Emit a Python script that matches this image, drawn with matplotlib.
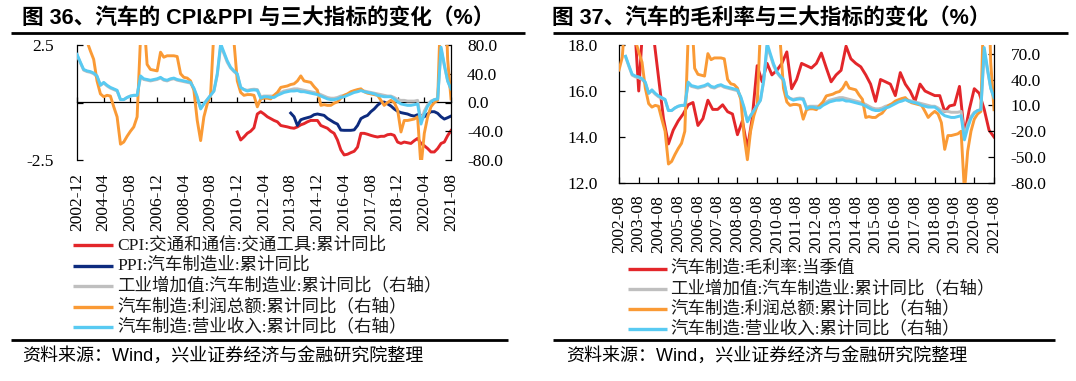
import numpy as np
import pandas as pd
import matplotlib
matplotlib.use('Agg')
import matplotlib.pyplot as plt
import matplotlib.dates as mdates
from matplotlib.lines import Line2D

nan = np.nan

# ---------------- data ----------------
# bi-monthly cumulative yoy (%), starting 2002-08
monthly_start = '2002-08-01'
revenue = [nan, nan,
           67, 56, 46, 44, 43, 41, 37, 24, 28, 24,
           21, 19, 17, 4, 4, 7, 9, 10, 10, 37,
           33, 32, 31, 32, 33, 35, 32, 31, 33, 34,
           32, 31, 30, 29, 28, 20, 8, -9, -2, 4,
           10, 16, 40, 82, 70, 58, 49, 44, 40, 21,
           18, 16, 17, 17.5, 17, 6, 8, 8, 7, 7,
           10, 12, 14, 15, 16, 16, 16.6, 15, 15, 14,
           13, 12, 11, 9, 7, 5, 4, 4, 5, 7,
           8, 10, 12, 14, 15, 16.6, 15, 14, 13, 12,
           10, 9, 8, 8, 8, 5, 1, -2, -3, -4,
           -4, -3, -2, -30, -16, -5, 1, 4, 5, 77,
           53, 30, 19]
value_added = [nan, nan,
               66, 55, 45, 43, 42, 40, 36, 24, 27, 23,
               20, 18, 16, 4, 4, 7, 9, 10, 10, 35,
               32, 31, 30, 31, 32, 34, 31, 30, 32, 33,
               31, 30, 29, 28, 27, 19, 6, -8, -2, 4,
               10, 16, 38, 78, 68, 56, 48, 43, 39, 21,
               18, 17, 18, 18.5, 18, 8, 9, 9, 9, 9,
               12, 14, 16, 17, 18, 19, 19, 18, 17, 16,
               15, 14, 13, 11, 9, 7, 6, 6, 7, 9,
               10, 11, 13, 15, 16, 17, 16, 15, 14, 13,
               12, 11, 10, 9, 9, 7, 4, 3, 3, 2,
               2, 2, 3, -26, -12, -3, 2, 4, 5, 74,
               51, 30, 18]
profit = [51, 66,
          120, 110, 100, 85, 72, 60, 30, 12, 8, 10,
          9, -6, -20, -58, -55, -47, -40, -34, -20, 90,
          120, 53, 46, 45, 44, 70, 63, 65, 65, 65,
          64, 40, 35, 34, 30, 17, -25, -53, -20, -2,
          10, 100, 150, 140, 130, 110, 95, 85, 30, 14,
          10, 11, 11, 10, -6, 5, 6, 6, 5, 10,
          14, 21, 22, 23, 25, 26, 30, 37, 30, 29,
          28, 22, 17, -4, -3, -4, -4, -1, 1, 6,
          10, 12, 15, 16.6, 18, 19, 15, 13, 12, 11,
          10, 3, -4, 0, 3, 0, -10, -41, -25, -25,
          -24, -23, -20, -90, -43, -20, -6, 0, 3, 150,
          200, 60, 5]

# CPI transport vehicles, cumulative yoy (%), bi-monthly from 2010-12
cpi_start = '2010-12-01'
cpi = [-1.28, -1.63, -1.5, -1.34, -1.25, -1.1, -0.5, -0.4, -0.5, -0.62,
       -0.7, -0.78, -0.84, -1.0, -1.03, -1.06, -1.1, -1.12, -1.06, -0.97,
       -0.92, -0.84, -0.78, -0.78, -0.78, -1.0, -1.06, -1.12, -1.25, -1.34,
       -1.63, -2.06, -2.28, -2.25, -2.18, -2.12, -1.94, -1.34, -1.34, -1.38,
       -1.43, -1.47, -1.5, -1.47, -1.47, -1.4, -1.38, -1.43, -1.72, -1.78,
       -1.72, -1.75, -1.78, -1.66, -1.56, -1.78, -1.88, -2.0, -2.15, -2.15,
       -2.0, -1.78, -1.72, -1.44, -1.22]

# PPI auto manufacturing, cumulative yoy (%), bi-monthly from 2013-08
ppi_start = '2013-08-01'
ppi = [-0.46, -0.62, -1.0, -0.75, -0.7, -0.66, -0.62, -0.53, -0.5, -0.53,
       -0.56, -0.69, -0.78, -0.87, -0.94, -1.2, -1.21, -1.21, -1.21, -1.19,
       -1.0, -0.7, -0.62, -0.56, -0.4, -0.28, -0.12, 0.0, 0.02, -0.06,
       -0.15, -0.28, -0.38, -0.44, -0.47, -0.5, -0.56, -0.59, -0.53, -0.56,
       -0.62, -0.5, -0.4, -0.4, -0.47, -0.62, -0.72, -0.66, -0.59]

# gross margin (%), quarterly from 2003-05
margin_start = '2003-05-01'
margin = [19.5, 16.0, 19.5, 19.5, 18.4, 16.6, 14.8, 13.7, 14.3, 14.7,
          15.0, 15.4, 15.5, 14.5, 14.8, 15.6, 15.2, 15.2, 15.4, 15.1,
          15.0, 14.1, 14.7, 13.5, 14.8, 17.1, 16.4, 17.2, 16.7, 16.9,
          17.2, 17.7, 16.1, 16.5, 17.2, 17.1, 17.0, 17.2, 17.65, 17.0,
          16.4, 16.7, 16.9, 17.95, 17.4, 17.2, 17.05, 16.7, 16.3, 15.55,
          16.5, 16.4, 16.3, 15.8, 16.8, 16.3, 16.0, 15.55, 16.3, 16.0,
          15.9, 15.8, 15.8, 15.1, 15.35, 15.4, 16.2, 14.1, 15.2, 16.1,
          15.9, 15.2, 14.3, 14.0]

title_left = '图 36、汽车的 CPI&PPI 与三大指标的变化（%）'
title_right = '图 37、汽车的毛利率与三大指标的变化（%）'
label_cpi = 'CPI:交通和通信:交通工具:累计同比'
label_ppi = 'PPI:汽车制造业:累计同比'
label_va = '工业增加值:汽车制造业:累计同比（右轴）'
label_profit = '汽车制造:利润总额:累计同比（右轴）'
label_rev = '汽车制造:营业收入:累计同比（右轴）'
label_margin = '汽车制造:毛利率:当季值'
source = '资料来源：Wind，兴业证券经济与金融研究院整理'

left_ticks = pd.date_range('2002-12-01', '2021-08-01', freq='16MS')
right_ticks = pd.date_range('2002-08-01', '2021-08-01', freq='12MS')

# ---------------- styling ----------------
C_RED = '#E3262A'
C_NAVY = '#0D2B7E'
C_GRAY = '#BFBFBF'
C_ORANGE = '#FA9A35'
C_BLUE = '#58CAF2'
LW = 2.1

SERIF = ['Liberation Serif', 'Noto Sans CJK SC']
SANS = ['Liberation Sans', 'Noto Sans CJK SC']

assert len(revenue) == len(value_added) == len(profit) == 115
assert len(cpi) == 65 and len(ppi) == 49 and len(margin) == 74

m_dates = mdates.date2num(pd.date_range(monthly_start, periods=len(revenue), freq='2MS'))
cpi_dates = mdates.date2num(pd.date_range(cpi_start, periods=len(cpi), freq='2MS'))
ppi_dates = mdates.date2num(pd.date_range(ppi_start, periods=len(ppi), freq='2MS'))
mg_dates = mdates.date2num(pd.date_range(margin_start, periods=len(margin), freq='3MS'))

W, H = 1076, 381
fig = plt.figure(figsize=(W / 100, H / 100), dpi=100)


def fx(px):
    return px / W


def fy(py):
    return 1 - py / H


def hline(x0, x1, y, lw=2.0):
    fig.add_artist(Line2D([fx(x0), fx(x1)], [fy(y), fy(y)], transform=fig.transFigure,
                          color='black', lw=lw, solid_capstyle='butt'))


# ---------- left panel ----------
ax1 = fig.add_axes([fx(77), fy(160), fx(451) - fx(77), fy(45) - fy(160)])
ax1.plot(cpi_dates, cpi, color=C_RED, lw=LW)
ax1.plot(ppi_dates, ppi, color=C_NAVY, lw=LW)
ax1.set_ylim(-2.5, 2.5)
ax1.set_xlim(mdates.date2num(left_ticks[0]), mdates.date2num(left_ticks[-1]))
ax1.set_yticks([-2.5, 0, 2.5])
ax1.set_yticklabels(['-2.5', '', '2.5'], family=SERIF, fontsize=12.5)
ax1.tick_params(axis='y', direction='in', length=4, width=0.9, pad=16.5)
lt = mdates.date2num(left_ticks)
ax1.set_xticks(lt)
ax1.set_xticklabels([d.strftime('%Y-%m') for d in left_ticks], rotation=90,
                    family=SERIF, fontsize=12.5)
ax1.tick_params(axis='x', length=0, pad=9.5)
for s in ('top', 'bottom', 'right'):
    ax1.spines[s].set_visible(False)
ax1.spines['left'].set_linewidth(0.9)
sec = ax1.secondary_xaxis(0.5)
sec.set_xticks(lt)
sec.tick_params(axis='x', direction='out', length=3.5, width=0.9,
                labeltop=False, labelbottom=False)
for s in sec.spines.values():
    s.set_linewidth(0.9)

ax2 = ax1.twinx()
ax2.plot(m_dates, value_added, color=C_GRAY, lw=LW)
ax2.plot(m_dates, profit, color=C_ORANGE, lw=LW)
ax2.plot(m_dates, revenue, color=C_BLUE, lw=LW)
ax2.set_ylim(-80, 80)
ax2.set_yticks([-80, -40, 0, 40, 80])
ax2.set_yticklabels([f'{v:.1f}' for v in [-80, -40, 0, 40, 80]], family=SERIF, fontsize=12.5)
ax2.tick_params(axis='y', direction='in', length=4, width=0.9, pad=11.5)
for s in ('top', 'bottom', 'left'):
    ax2.spines[s].set_visible(False)
ax2.spines['right'].set_linewidth(0.9)

# ---------- right panel ----------
ax3 = fig.add_axes([fx(619), fy(183), fx(994) - fx(619), fy(45) - fy(183)])
ax3.plot(mg_dates, margin, color=C_RED, lw=LW)
ax3.set_ylim(12, 18)
ax3.set_xlim(mdates.date2num(right_ticks[0]), mdates.date2num(right_ticks[-1]))
ax3.set_yticks([12, 14, 16, 18])
ax3.set_yticklabels([f'{v:.1f}' for v in [12, 14, 16, 18]], family=SERIF, fontsize=12.5)
ax3.tick_params(axis='y', direction='in', length=4, width=0.9, pad=15)
rt = mdates.date2num(right_ticks)
ax3.set_xticks(rt)
ax3.set_xticklabels([d.strftime('%Y-%m') for d in right_ticks], rotation=90,
                    family=SERIF, fontsize=12.5)
ax3.tick_params(axis='x', direction='in', length=4, width=0.9, pad=8.5)
for s in ('top', 'right'):
    ax3.spines[s].set_visible(False)
for s in ('left', 'bottom'):
    ax3.spines[s].set_linewidth(0.9)

ax4 = ax3.twinx()
ax4.plot(m_dates, value_added, color=C_GRAY, lw=LW)
ax4.plot(m_dates, profit, color=C_ORANGE, lw=LW)
ax4.plot(m_dates, revenue, color=C_BLUE, lw=LW)
ax4.set_ylim(-80, 80)
rticks = [-80, -50, -20, 10, 40, 70]
ax4.set_yticks(rticks)
ax4.set_yticklabels([f'{v:.1f}' for v in rticks], family=SERIF, fontsize=12.5)
ax4.tick_params(axis='y', direction='in', length=4, width=0.9, pad=12)
for s in ('top', 'bottom', 'left'):
    ax4.spines[s].set_visible(False)
ax4.spines['right'].set_linewidth(0.9)

# ---------- titles, legends, sources ----------
fig.text(fx(22), fy(18), title_left, fontsize=15.6, fontweight='bold', family=SANS,
         ha='left', va='center')
fig.text(fx(552), fy(18), title_right, fontsize=15.6, fontweight='bold', family=SANS,
         ha='left', va='center')
hline(11, 525, 33)
hline(553, 1068, 33)


def legend(entries, x_line0, x_line1, x_text, y0, step):
    for i, (color, label) in enumerate(entries):
        y = y0 + step * i
        fig.add_artist(Line2D([fx(x_line0), fx(x_line1)], [fy(y), fy(y)],
                              transform=fig.transFigure, color=color, lw=LW + 0.3,
                              solid_capstyle='butt'))
        fig.text(fx(x_text), fy(y), label, fontsize=12.6, family=SERIF, color='#1a1a1a',
                 ha='left', va='center')


legend([(C_RED, label_cpi), (C_NAVY, label_ppi), (C_GRAY, label_va),
        (C_ORANGE, label_profit), (C_BLUE, label_rev)], 73, 113, 117, 245, 20.5)
legend([(C_RED, label_margin), (C_GRAY, label_va), (C_ORANGE, label_profit),
        (C_BLUE, label_rev)], 628, 667, 670, 269, 20)

hline(11, 508, 340)
hline(553, 1055, 340)
fig.text(fx(22), fy(356), source, fontsize=13, family=SANS, ha='left', va='center')
fig.text(fx(566), fy(356), source, fontsize=13, family=SANS, ha='left', va='center')

fig.savefig('out.png', dpi=100)
